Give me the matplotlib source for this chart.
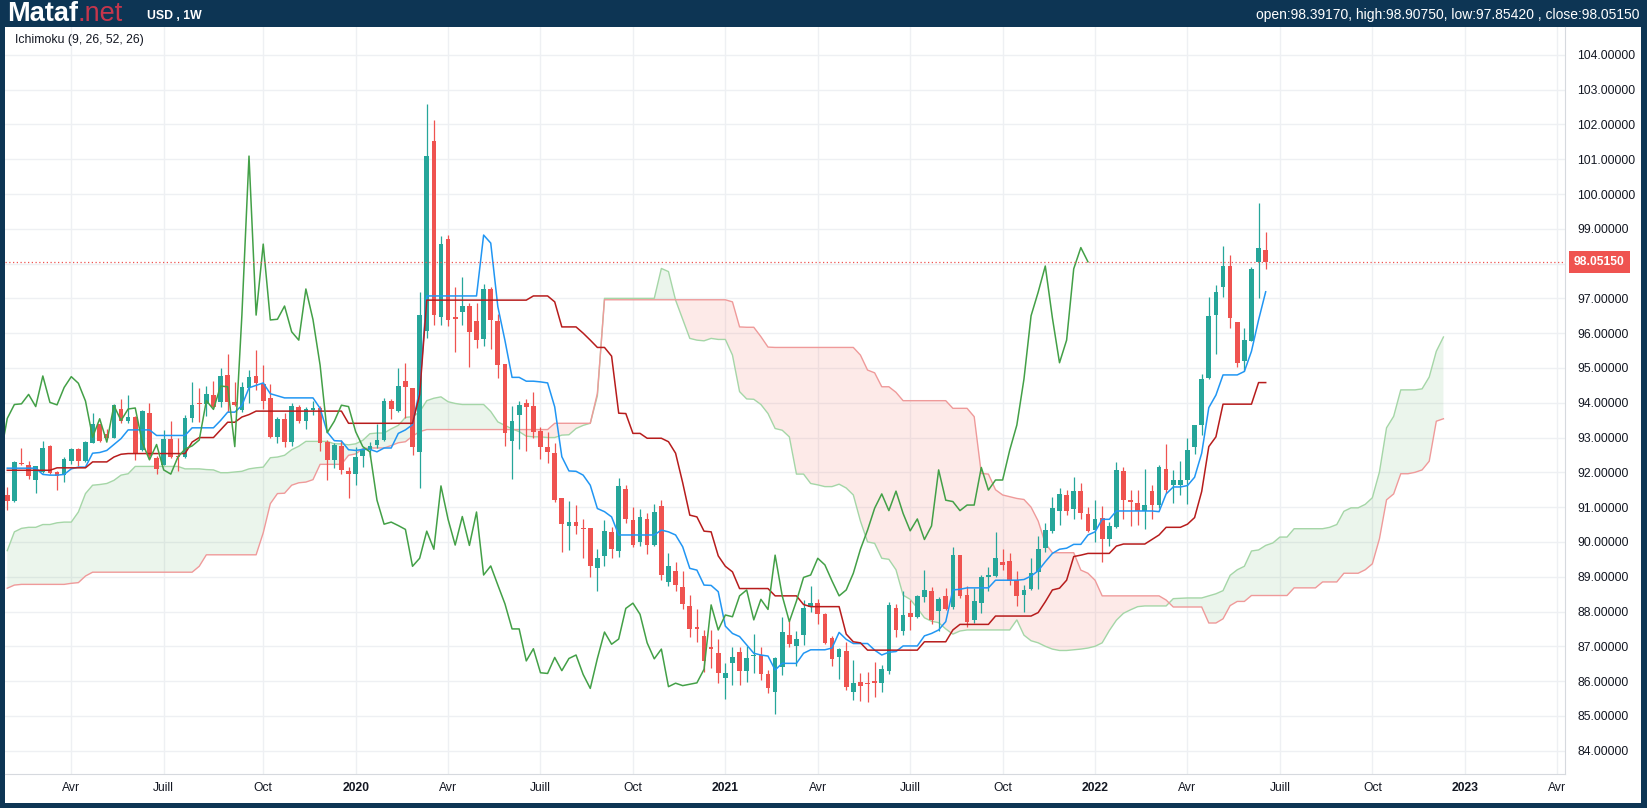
import numpy as np
import pandas as pd
import matplotlib
matplotlib.use("Agg")
import matplotlib.pyplot as plt
import matplotlib.transforms as mtransforms

plt.rcParams['font.family'] = ['Liberation Sans', 'DejaVu Sans']

# ---------------- data (weekly USD index, first bar = week of 2019-01-28) ----------------
START_DATE = "2019-01-28"
SYMBOL = "USD , 1W"
ICHI_PARAMS = [9, 26, 52, 26]
LAG = 25  # bars the lagging / leading spans are shifted on the chart

OPEN = [91.36, 91.17, 92.27, 92.22, 91.78, 92.00, 92.77, 92.02, 91.92, 92.32,
        92.68, 92.32, 92.85, 93.38, 93.09, 93.00, 93.83, 93.49, 93.60, 92.65,
        93.72, 92.40, 92.21, 92.97, 92.47, 92.43, 93.55, 94.00, 93.96, 94.22,
        94.03, 94.80, 94.03, 93.78, 94.42, 94.78, 94.53, 94.15, 93.01, 93.54,
        92.87, 93.89, 93.47, 93.80, 93.86, 92.88, 92.36, 92.76, 92.05, 91.96,
        92.46, 92.64, 92.78, 92.94, 94.06, 93.75, 94.62, 94.41, 92.59, 96.07,
        101.52, 96.47, 98.72, 96.46, 96.62, 96.78, 96.35, 95.84, 97.27, 96.36,
        95.11, 92.91, 93.66, 93.98, 93.90, 93.19, 92.73, 92.56, 91.25, 90.47,
        90.57, 90.41, 90.41, 89.25, 89.60, 90.28, 89.75, 91.52, 90.63, 90.01,
        90.67, 89.91, 91.03, 88.86, 89.16, 88.70, 88.16, 87.55, 87.30, 86.97,
        86.82, 86.10, 86.51, 86.83, 86.30, 86.72, 86.74, 86.20, 85.70, 86.40,
        87.33, 87.02, 87.33, 88.14, 88.25, 87.93, 87.24, 86.70, 86.87, 85.70,
        85.97, 85.95, 85.99, 85.95, 86.29, 88.11, 87.45, 87.95, 87.85, 88.43,
        88.59, 88.02, 88.45, 88.12, 89.62, 88.47, 87.75, 88.25, 89.00, 89.02,
        89.43, 89.45, 88.90, 88.47, 88.66, 89.14, 89.82, 90.32, 90.90, 91.35,
        90.94, 91.46, 90.79, 90.34, 90.68, 90.07, 90.42, 92.04, 91.20, 91.11,
        90.90, 91.46, 91.06, 92.11, 91.64, 91.64, 91.78, 92.72, 93.36, 94.70,
        96.52, 97.33, 97.93, 96.31, 95.21, 95.78, 98.05, 98.3917]

HIGH = [91.59, 92.33, 92.71, 92.33, 92.17, 92.91, 92.80, 92.05, 92.45, 92.70,
        92.70, 92.89, 93.70, 93.40, 93.26, 93.97, 94.12, 94.21, 93.62, 93.79,
        94.00, 92.47, 93.22, 93.48, 92.99, 93.66, 94.61, 94.41, 94.48, 94.62,
        94.99, 95.40, 94.59, 94.59, 94.94, 95.53, 95.09, 94.53, 93.60, 93.71,
        93.99, 93.95, 93.87, 94.06, 93.91, 92.94, 92.84, 92.93, 92.15, 92.74,
        92.70, 92.87, 93.39, 94.14, 94.11, 94.99, 95.13, 94.41, 97.19, 102.60,
        102.14, 98.79, 98.82, 97.32, 97.62, 96.87, 96.87, 97.41, 97.32, 96.55,
        95.11, 93.90, 94.06, 94.10, 94.30, 93.31, 93.16, 92.83, 91.27, 91.18,
        91.06, 90.66, 90.41, 89.80, 90.63, 90.44, 91.83, 91.63, 91.01, 90.94,
        90.82, 91.09, 91.20, 89.67, 89.43, 89.16, 88.47, 88.07, 87.47, 87.47,
        87.21, 86.51, 86.99, 86.97, 87.00, 87.35, 86.99, 86.32, 86.70, 87.83,
        87.76, 87.44, 88.33, 88.74, 88.35, 87.97, 87.30, 86.96, 87.11, 86.61,
        86.24, 86.26, 86.55, 86.46, 88.28, 88.21, 88.60, 88.33, 88.47, 89.19,
        88.71, 88.41, 88.69, 89.84, 89.62, 88.73, 88.67, 89.05, 89.29, 90.29,
        89.81, 89.67, 89.17, 88.76, 89.53, 90.17, 90.53, 91.28, 91.54, 91.49,
        91.86, 91.70, 91.01, 91.20, 91.03, 90.58, 92.30, 92.14, 91.49, 91.49,
        92.09, 91.63, 92.21, 92.81, 92.07, 92.34, 92.98, 93.36, 94.84, 97.05,
        97.38, 98.50, 98.24, 96.33, 96.14, 97.89, 99.75, 98.9075]

LOW = [90.92, 91.15, 92.20, 91.82, 91.40, 91.98, 91.95, 91.48, 91.72, 92.23,
       92.19, 92.29, 92.84, 92.88, 92.99, 92.98, 93.42, 93.41, 92.36, 92.61,
       92.39, 91.96, 92.20, 92.41, 92.05, 92.41, 93.44, 93.45, 93.63, 93.84,
       93.89, 93.74, 93.90, 93.73, 93.99, 94.37, 93.81, 92.99, 92.84, 92.72,
       92.77, 93.41, 93.24, 93.66, 92.61, 91.78, 92.13, 91.96, 91.27, 91.65,
       92.15, 92.43, 92.71, 92.91, 93.54, 93.74, 93.55, 92.50, 91.55, 95.85,
       96.23, 96.23, 96.20, 95.47, 96.23, 95.02, 95.56, 95.64, 95.54, 94.70,
       92.76, 91.82, 92.68, 92.62, 93.00, 92.39, 92.28, 91.15, 89.72, 89.77,
       90.22, 89.53, 89.00, 88.60, 89.30, 89.53, 89.57, 90.53, 89.86, 89.88,
       89.64, 89.88, 88.90, 88.74, 88.60, 88.08, 87.26, 87.13, 86.25, 86.37,
       85.95, 85.48, 85.89, 85.89, 85.98, 86.22, 86.03, 85.67, 85.05, 86.18,
       86.99, 86.44, 87.04, 87.99, 87.64, 87.07, 86.42, 86.07, 85.73, 85.46,
       85.44, 85.41, 85.55, 85.70, 86.20, 87.26, 87.32, 87.47, 87.80, 88.28,
       87.63, 87.45, 88.04, 88.06, 88.38, 87.56, 87.68, 87.97, 88.60, 88.98,
       89.19, 88.76, 88.16, 88.00, 88.62, 88.66, 89.70, 90.25, 90.49, 90.77,
       90.66, 90.65, 90.29, 90.01, 89.43, 89.88, 90.39, 90.65, 90.46, 90.49,
       90.36, 90.65, 90.97, 91.40, 91.11, 91.35, 91.09, 92.53, 93.07, 94.68,
       95.40, 97.05, 96.14, 95.04, 94.92, 95.78, 97.00, 97.8542]

CLOSE = [91.17, 92.31, 92.23, 91.89, 92.17, 92.71, 91.98, 91.89, 92.37, 92.68,
         92.33, 92.86, 93.40, 92.90, 93.00, 93.95, 93.49, 93.60, 92.53, 93.75,
         92.48, 92.09, 92.97, 92.43, 92.43, 93.55, 93.95, 93.97, 94.24, 93.89,
         94.77, 94.01, 93.94, 94.44, 94.75, 94.56, 94.05, 93.01, 93.54, 92.87,
         93.92, 93.49, 93.82, 93.85, 92.85, 92.36, 92.80, 92.07, 91.95, 92.44,
         92.67, 92.76, 92.93, 94.06, 93.81, 94.48, 94.46, 92.74, 96.52, 101.09,
         96.52, 98.56, 96.38, 96.40, 96.78, 96.04, 95.80, 97.27, 96.39, 95.08,
         93.14, 93.47, 93.93, 93.89, 93.17, 92.74, 92.59, 91.20, 90.51, 90.57,
         90.47, 90.36, 89.30, 89.53, 90.31, 89.79, 91.61, 90.65, 89.91, 90.73,
         89.90, 90.86, 89.05, 89.31, 88.76, 88.22, 87.50, 87.50, 86.58, 86.93,
         86.24, 86.22, 86.68, 86.30, 86.65, 86.75, 86.19, 85.79, 86.65, 87.41,
         87.06, 87.21, 88.09, 88.24, 87.92, 87.10, 86.64, 86.92, 85.84, 85.94,
         85.87, 85.91, 85.95, 86.34, 88.19, 87.47, 87.90, 87.85, 88.45, 88.62,
         87.76, 88.35, 88.06, 89.62, 88.45, 87.71, 88.30, 88.98, 89.05, 89.53,
         89.34, 88.88, 88.45, 88.62, 89.10, 89.79, 90.34, 90.97, 91.38, 90.90,
         91.46, 90.82, 90.32, 90.66, 90.07, 90.46, 92.07, 91.20, 91.16, 90.90,
         91.06, 91.06, 92.14, 91.49, 91.78, 91.78, 92.64, 93.36, 94.68, 96.50,
         97.18, 97.93, 96.44, 95.15, 95.80, 97.85, 98.46, 98.0515]

TENKAN = [92.12, 92.12, 92.12, 92.12, 92.12, 91.94, 91.92, 91.92, 91.94, 92.10,
          92.15, 92.15, 92.55, 92.57, 92.63, 92.80, 92.97, 93.22, 93.22, 93.22,
          93.22, 93.06, 93.06, 93.06, 93.06, 93.06, 93.28, 93.28, 93.28, 93.28,
          93.49, 93.73, 93.73, 93.92, 94.43, 94.50, 94.57, 94.26, 94.20, 94.14,
          94.14, 94.14, 94.14, 94.14, 93.84, 93.16, 92.91, 92.90, 92.65, 92.63,
          92.66, 92.66, 92.59, 92.70, 92.70, 93.12, 93.22, 93.37, 94.37, 97.07,
          97.07, 97.07, 97.07, 97.07, 97.07, 97.07, 97.07, 98.82, 98.59, 96.76,
          95.79, 94.73, 94.73, 94.62, 94.62, 94.60, 94.57, 93.88, 92.45, 92.04,
          92.03, 91.92, 91.63, 90.96, 90.87, 90.72, 90.20, 90.20, 90.20, 90.20,
          90.20, 90.20, 90.34, 90.29, 90.20, 89.86, 89.24, 89.19, 88.76, 88.75,
          88.57, 87.58, 87.37, 87.28, 87.04, 86.80, 86.75, 86.72, 86.32, 86.51,
          86.51, 86.51, 86.80, 86.90, 86.90, 86.90, 86.95, 87.40, 87.20, 87.08,
          87.08, 87.08, 86.89, 86.75, 86.83, 86.85, 87.01, 87.01, 87.01, 87.30,
          87.37, 87.47, 87.71, 88.62, 88.64, 88.68, 88.68, 88.68, 88.68, 88.90,
          88.90, 88.90, 88.90, 88.92, 89.02, 89.17, 89.43, 89.67, 89.79, 89.82,
          89.93, 89.93, 90.20, 90.29, 90.65, 90.65, 90.89, 90.89, 90.89, 90.89,
          90.89, 90.89, 90.87, 91.38, 91.58, 91.58, 91.62, 91.86, 92.55, 93.86,
          94.22, 94.80, 94.80, 94.80, 94.90, 95.48, 96.38, 97.19]

KIJUN = [92.06, 92.06, 92.06, 92.06, 92.06, 92.06, 92.06, 92.13, 92.13, 92.13,
         92.13, 92.13, 92.30, 92.30, 92.30, 92.44, 92.52, 92.54, 92.54, 92.54,
         92.54, 92.54, 92.54, 92.54, 92.54, 92.54, 92.87, 93.00, 93.00, 93.00,
         93.22, 93.44, 93.44, 93.59, 93.66, 93.76, 93.76, 93.76, 93.76, 93.76,
         93.76, 93.76, 93.76, 93.76, 93.76, 93.76, 93.76, 93.76, 93.41, 93.41,
         93.41, 93.41, 93.41, 93.41, 93.41, 93.41, 93.41, 93.41, 94.23, 96.95,
         96.95, 96.95, 96.95, 96.95, 96.95, 96.95, 96.95, 96.95, 96.95, 96.95,
         96.95, 96.95, 96.95, 96.95, 97.07, 97.07, 97.07, 96.90, 96.18, 96.18,
         96.18, 96.00, 95.80, 95.59, 95.59, 95.34, 93.70, 93.69, 93.12, 93.12,
         92.98, 92.98, 92.98, 92.88, 92.55, 91.70, 90.77, 90.72, 90.31, 90.29,
         89.60, 89.30, 89.14, 88.66, 88.66, 88.66, 88.66, 88.66, 88.45, 88.45,
         88.45, 88.45, 88.20, 88.14, 88.14, 88.14, 88.14, 88.14, 87.35, 87.13,
         87.10, 86.89, 86.89, 86.89, 86.89, 86.89, 86.89, 86.89, 86.89, 87.13,
         87.13, 87.13, 87.13, 87.47, 87.63, 87.63, 87.63, 87.63, 87.63, 87.87,
         87.87, 87.87, 87.87, 87.87, 87.87, 87.97, 88.28, 88.62, 88.67, 88.90,
         89.58, 89.62, 89.67, 89.67, 89.67, 89.67, 89.88, 89.94, 89.94, 89.94,
         89.94, 90.07, 90.20, 90.42, 90.42, 90.42, 90.51, 90.70, 91.45, 92.74,
         93.02, 93.96, 93.96, 93.96, 93.96, 93.96, 94.58, 94.58]

SPAN_A = [89.75, 90.29, 90.39, 90.42, 90.42, 90.50, 90.50, 90.55, 90.57, 90.57,
          90.86, 91.39, 91.63, 91.65, 91.68, 91.77, 91.92, 91.96, 92.17, 92.17,
          92.17, 92.17, 92.17, 92.17, 92.17, 92.10, 92.10, 92.10, 92.08, 92.07,
          91.99, 91.99, 92.01, 92.03, 92.10, 92.13, 92.15, 92.42, 92.44, 92.49,
          92.65, 92.75, 92.89, 92.89, 92.89, 92.89, 92.82, 92.82, 92.79, 92.82,
          92.92, 93.11, 93.13, 93.13, 93.25, 93.35, 93.58, 93.60, 93.74, 94.06,
          94.13, 94.17, 94.03, 93.98, 93.95, 93.95, 93.95, 93.95, 93.75, 93.45,
          93.35, 93.25, 93.17, 93.04, 93.02, 93.02, 93.00, 93.00, 93.07, 93.08,
          93.26, 93.35, 93.41, 94.20, 97.00, 97.00, 97.00, 97.00, 97.00, 97.00,
          97.00, 97.00, 97.86, 97.77, 96.95, 96.40, 95.85, 95.80, 95.78, 95.85,
          95.82, 95.82, 95.37, 94.32, 94.11, 94.10, 93.95, 93.69, 93.26, 93.21,
          93.02, 91.95, 91.95, 91.68, 91.64, 91.59, 91.59, 91.66, 91.55, 91.35,
          90.60, 90.00, 89.96, 89.53, 89.50, 89.20, 88.47, 88.35, 88.10, 87.82,
          87.72, 87.68, 87.50, 87.35, 87.44, 87.47, 87.47, 87.47, 87.47, 87.47,
          87.47, 87.47, 87.76, 87.32, 87.16, 87.10, 87.00, 86.92, 86.88, 86.88,
          86.90, 86.92, 86.95, 87.00, 87.10, 87.45, 87.75, 87.95, 88.05, 88.14,
          88.16, 88.16, 88.16, 88.16, 88.37, 88.38, 88.39, 88.39, 88.39, 88.45,
          88.51, 88.60, 89.04, 89.20, 89.30, 89.74, 89.77, 89.90, 89.97, 90.14,
          90.14, 90.38, 90.38, 90.38, 90.38, 90.38, 90.42, 90.50, 90.88, 90.98,
          90.98, 91.08, 91.27, 92.01, 93.28, 93.61, 94.37, 94.37, 94.37, 94.40,
          94.74, 95.48, 95.89]

SPAN_B = [88.67, 88.76, 88.78, 88.78, 88.78, 88.78, 88.78, 88.78, 88.78, 88.81,
          88.83, 89.02, 89.13, 89.13, 89.13, 89.13, 89.13, 89.13, 89.13, 89.13,
          89.13, 89.13, 89.13, 89.13, 89.13, 89.13, 89.13, 89.30, 89.63, 89.63,
          89.63, 89.63, 89.63, 89.63, 89.63, 89.63, 90.26, 91.10, 91.39, 91.40,
          91.63, 91.70, 91.72, 91.79, 92.23, 92.23, 92.23, 92.23, 92.49, 92.53,
          92.68, 92.70, 92.70, 92.70, 92.77, 92.85, 92.88, 93.04, 93.17, 93.23,
          93.23, 93.23, 93.23, 93.23, 93.23, 93.23, 93.23, 93.23, 93.23, 93.23,
          93.23, 93.23, 93.23, 93.23, 93.23, 93.23, 93.23, 93.41, 93.41, 93.41,
          93.41, 93.41, 93.41, 94.27, 96.96, 96.96, 96.96, 96.96, 96.96, 96.96,
          96.96, 96.96, 96.96, 96.96, 96.96, 96.96, 96.96, 96.96, 96.96, 96.96,
          96.96, 96.96, 96.90, 96.18, 96.17, 96.17, 95.90, 95.60, 95.59, 95.59,
          95.59, 95.59, 95.59, 95.59, 95.59, 95.59, 95.59, 95.59, 95.59, 95.59,
          95.37, 94.94, 94.86, 94.46, 94.46, 94.30, 94.06, 94.06, 94.06, 94.06,
          94.06, 94.06, 94.06, 93.84, 93.84, 93.84, 93.60, 91.97, 91.95, 91.50,
          91.35, 91.30, 91.25, 91.22, 91.00, 90.60, 89.96, 89.69, 89.69, 89.69,
          89.69, 89.19, 89.10, 88.90, 88.45, 88.45, 88.45, 88.45, 88.45, 88.45,
          88.45, 88.45, 88.45, 88.33, 88.13, 88.13, 88.13, 88.13, 88.13, 87.67,
          87.67, 87.79, 88.17, 88.29, 88.29, 88.46, 88.46, 88.46, 88.46, 88.46,
          88.46, 88.68, 88.68, 88.68, 88.68, 88.85, 88.85, 88.85, 89.10, 89.10,
          89.10, 89.20, 89.37, 90.09, 91.21, 91.38, 91.96, 91.96, 92.00, 92.07,
          92.32, 93.47, 93.54]

Y_TICKS = list(range(84, 105))
QUARTER_LABELS = {4: "Avr", 7: "Juill", 10: "Oct"}

# ---------------- colours ----------------
NAVY = "#0d3554"
UP = "#26a69a"
DOWN = "#ef5350"
TENKAN_C = "#2196f3"
KIJUN_C = "#b71c1c"
CHIKOU_C = "#43a047"
SPANA_C = "#a5d6a7"
SPANB_C = "#ef9a9a"
GRID_C = "#eef0f3"
TXT_C = "#131722"

W, H = 1647, 808
X_LIM = (-0.32, 219.1)
Y_LIM = (83.33, 104.80)

fig = plt.figure(figsize=(W / 100, H / 100), dpi=100, facecolor=NAVY)

# white panel (chart + axis area)
bg = fig.add_axes([5 / W, 1 - 803 / H, (1641 - 5) / W, (803 - 27) / H])
bg.set_facecolor("white")
bg.set_xticks([]); bg.set_yticks([])
for s in bg.spines.values():
    s.set_visible(False)

ax = fig.add_axes([5 / W, 1 - 774 / H, 1560 / W, (774 - 27) / H])
ax.set_facecolor("white")

o = np.array(OPEN); h = np.array(HIGH); l = np.array(LOW); c = np.array(CLOSE)
x = np.arange(len(c))
up = c >= o
cols = np.where(up, UP, DOWN)

# cloud
sa = np.array(SPAN_A); sb = np.array(SPAN_B)
xs = np.arange(len(sa))
ax.fill_between(xs, sa, sb, where=sa >= sb, interpolate=True, color="#43a047", alpha=0.10, lw=0, zorder=1)
ax.fill_between(xs, sa, sb, where=sa < sb, interpolate=True, color="#f44336", alpha=0.11, lw=0, zorder=1)
ax.plot(xs, sa, color=SPANA_C, lw=1.0, zorder=2)
ax.plot(xs, sb, color=SPANB_C, lw=1.0, zorder=2)

# candles
ax.vlines(x, l, h, colors=cols, linewidth=0.9, zorder=3)
body_low = np.minimum(o, c)
body_h = np.maximum(np.abs(c - o), 0.03)
ax.bar(x, body_h, bottom=body_low, width=0.66, color=cols, linewidth=0, zorder=3)

# lines
ax.plot(x, TENKAN, color=TENKAN_C, lw=1.1, zorder=4)
ax.plot(x, KIJUN, color=KIJUN_C, lw=1.1, zorder=4)
ax.plot(x - LAG, c, color=CHIKOU_C, lw=1.1, zorder=4)

# last price line
last = CLOSE[-1]
ax.axhline(last, color=DOWN, lw=0.9, ls=(0, (1, 2)), zorder=5)

# y axis on right (the 98 label is hidden behind the last-price tag)
ax.yaxis.tick_right()
ax.set_yticks(Y_TICKS)
ax.set_yticklabels(["" if abs(v - last) < 0.5 else f"{v:.5f}" for v in Y_TICKS])
ax.tick_params(axis="y", length=0, pad=9, labelsize=8.7, labelcolor=TXT_C)

# x axis: first weekly bar of each quarter month (within the visible range)
dates = pd.date_range(START_DATE, periods=int(X_LIM[1]) + 1, freq="7D")
tpos, tlab, tbold = [], [], []
for i in range(1, len(dates)):
    d, p = dates[i], dates[i - 1]
    if d.month != p.month and d.month in (1, 4, 7, 10):
        tpos.append(i)
        if d.month == 1:
            tlab.append(str(d.year)); tbold.append(True)
        else:
            tlab.append(QUARTER_LABELS[d.month]); tbold.append(False)
ax.set_xticks(tpos)
ax.set_xticklabels(tlab)
for t, b in zip(ax.get_xticklabels(), tbold):
    if b:
        t.set_fontweight("bold")
ax.tick_params(axis="x", length=0, pad=6, labelsize=8.7, labelcolor=TXT_C)

# limits (after ticks so they are not expanded)
ax.set_xlim(*X_LIM)
ax.set_ylim(*Y_LIM)

ax.grid(True, color=GRID_C, lw=1.0, zorder=0)
ax.set_axisbelow(True)
for side in ("top", "left"):
    ax.spines[side].set_visible(False)
ax.spines["right"].set_color("#d6d9de")
ax.spines["bottom"].set_color("#d6d9de")

# last price label on axis
trans = mtransforms.blended_transform_factory(ax.transAxes, ax.transData)
ax.text(1.0 + 9 / 1560, last, f"{last:.5f}", transform=trans, ha="left", va="center",
        fontsize=8.7, fontweight="bold", color="white", zorder=6, clip_on=False,
        bbox=dict(boxstyle="square,pad=0.4", fc=DOWN, ec="none"))

# legend text
ax.text(10 / 1560, 1 - (40 - 27) / (774 - 27), f"Ichimoku ({', '.join(str(p) for p in ICHI_PARAMS)})",
        transform=ax.transAxes, ha="left", va="center", fontsize=8.8, color=TXT_C, zorder=6)

# header
fig.canvas.draw()
t1 = fig.text(7 / W, 1 - 14 / H, "Mataf", color="white", fontsize=19.5, fontweight="bold",
              ha="left", va="center")
r = fig.canvas.get_renderer()
bb = t1.get_window_extent(renderer=r)
fig.text(bb.x1 / W, 1 - 14 / H, ".net", color="#c5364c", fontsize=19.5, ha="left", va="center")
fig.text(147 / W, 1 - 16 / H, SYMBOL, color="white", fontsize=8.8, fontweight="bold",
         ha="left", va="center")
hdr = (f"open:{OPEN[-1]:.5f}, high:{HIGH[-1]:.5f}, low:{LOW[-1]:.5f} , close:{CLOSE[-1]:.5f}")
fig.text(1640 / W, 1 - 15 / H, hdr, color="white", fontsize=10, ha="right", va="center")

fig.savefig("out.png", dpi=100, facecolor=NAVY)
